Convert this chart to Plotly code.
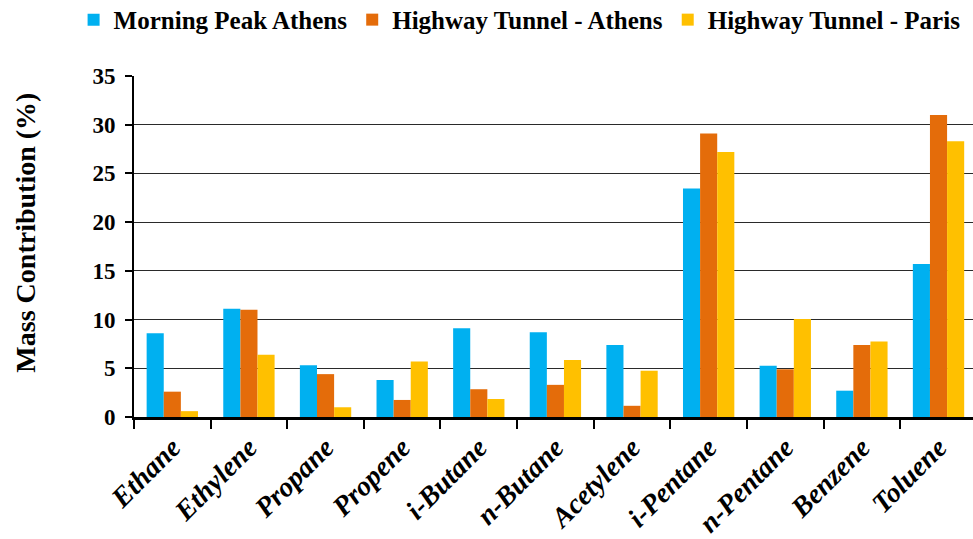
import plotly.graph_objects as go

compounds = ["Ethane", "Ethylene", "Propane", "Propene", "i-Butane", "n-Butane",
             "Acetylene", "i-Pentane", "n-Pentane", "Benzene", "Toluene"]
morning_peak_athens = [8.6, 11.1, 5.3, 3.8, 9.1, 8.7, 7.4, 23.45, 5.25, 2.7, 15.7]
tunnel_athens = [2.6, 11.0, 4.4, 1.75, 2.85, 3.3, 1.15, 29.1, 4.9, 7.4, 31.0]
tunnel_paris = [0.6, 6.4, 1.0, 5.7, 1.85, 5.85, 4.75, 27.2, 10.05, 7.75, 28.3]

series = [
    ("Morning Peak Athens", morning_peak_athens, "#00B0F0"),
    ("Highway Tunnel - Athens", tunnel_athens, "#E46C0A"),
    ("Highway Tunnel - Paris", tunnel_paris, "#FFC000"),
]

FONT = "Liberation Serif"

fig = go.Figure()
for name, vals, col in series:
    fig.add_trace(go.Bar(x=compounds, y=vals, name=name,
                         marker=dict(color=col, line=dict(width=0))))

fig.update_layout(
    width=973, height=539,
    margin=dict(l=134, r=0, t=76, b=122, autoexpand=False),
    paper_bgcolor="white", plot_bgcolor="white",
    barmode="group", bargap=0.33, bargroupgap=0,
    font=dict(family=FONT, color="black"),
    legend=dict(orientation="h", x=-0.072, xanchor="left",
                y=1.232, yanchor="top",
                font=dict(family=FONT, size=25, weight="bold"),
                itemwidth=30, tracegroupgap=0),
    showlegend=True,
)

fig.update_xaxes(
    range=[-0.5, 10.45],
    showline=True, linecolor="black", linewidth=3,
    ticks="outside", tickson="boundaries", ticklen=9, tickwidth=2, tickcolor="black",
    tickangle=-45,
    tickfont=dict(family=FONT, size=28, weight="bold", style="italic", color="black"),
    showgrid=False,
)
fig.update_yaxes(
    range=[0, 35], dtick=5,
    showline=True, linecolor="black", linewidth=2,
    ticks="outside", ticklen=7, tickwidth=2, tickcolor="black",
    ticklabelstandoff=5,
    tickfont=dict(family=FONT, size=23, weight="bold", color="black"),
    showgrid=True, gridcolor="#2a2a2a", gridwidth=1.3,
    zeroline=False,
)

# Y-axis title placed as a rotated annotation
fig.add_annotation(
    text="Mass Contribution (%)", textangle=-90,
    xref="paper", yref="paper", x=-0.129, y=0.54,
    xanchor="center", yanchor="middle", showarrow=False,
    font=dict(family=FONT, size=28, weight="bold", color="black"),
)

fig.write_html("out.html")
